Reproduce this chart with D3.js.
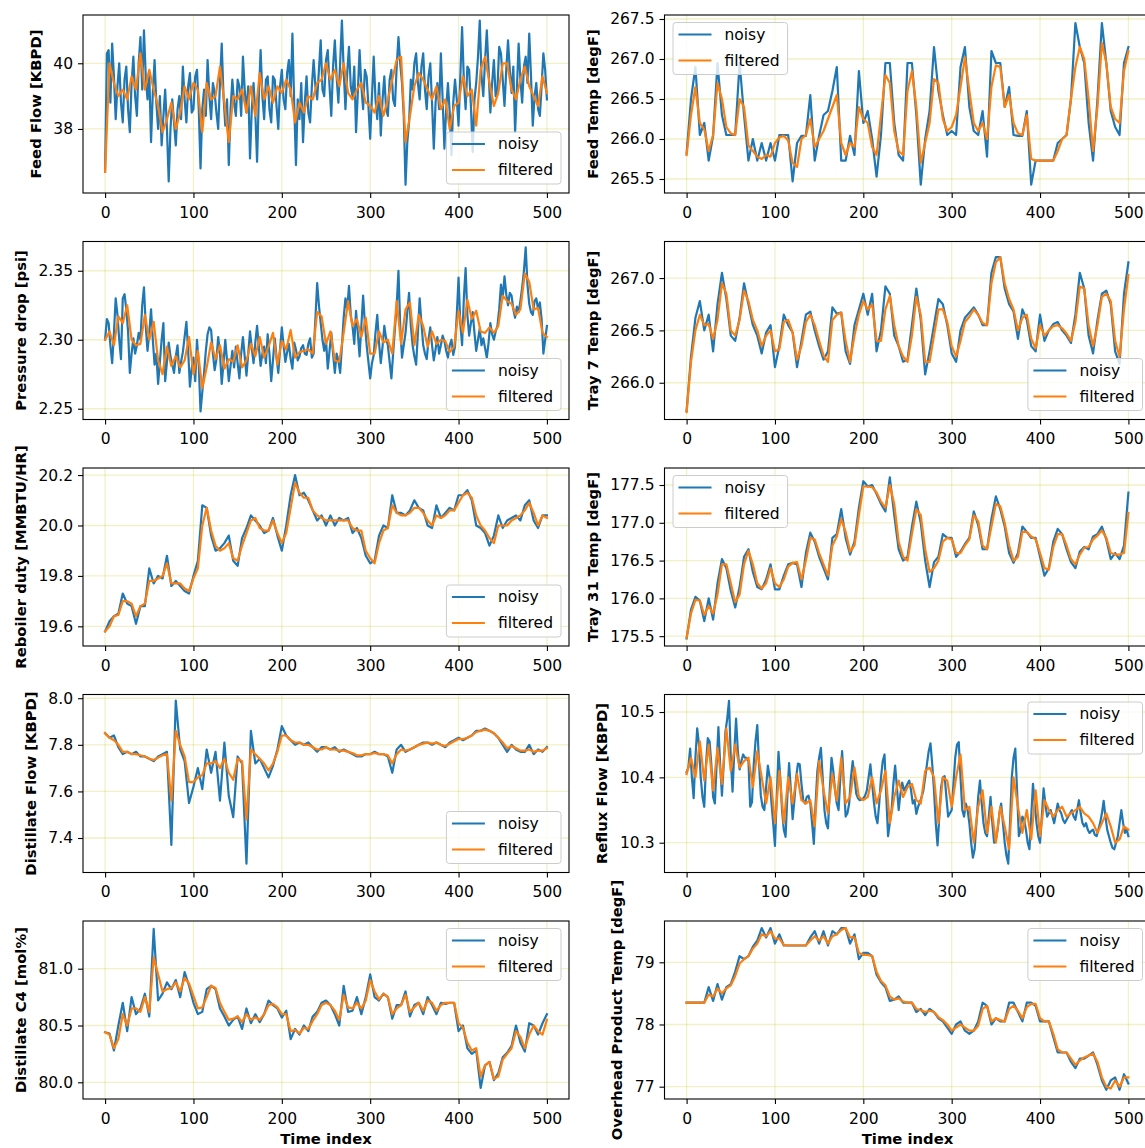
<!DOCTYPE html>
<html><head><meta charset="utf-8">
<script src="https://cdn.jsdelivr.net/npm/d3@7"></script>
<style>html,body{margin:0;padding:0;overflow:hidden;background:#fff}</style>
</head><body><svg id="chart"></svg>
<script>
// ---------------- data ----------------
const timeTicks = [0, 100, 200, 300, 400, 500];
const timeRange = [0, 500];
const seriesNames = ["noisy", "filtered"];

// Feed Flow [KBPD]  (noisy every 2 steps, filtered every 5 steps)
const feedFlowNoisy = [36.7,40.3,40.4,38.8,40.6,39.6,38.3,39.3,40.0,38.8,
 38.2,39.5,39.9,38.6,37.9,39.4,40.2,39.0,38.4,40.0,
 40.8,39.2,41.0,39.6,38.9,39.7,37.6,39.1,40.1,38.8,
 38.0,39.0,37.5,38.4,39.2,38.0,36.4,38.0,38.9,38.2,
 37.5,38.6,39.0,38.3,39.9,38.9,38.2,39.3,39.7,38.5,
 38.6,39.6,39.8,38.6,36.8,38.6,39.2,38.4,40.1,39.0,
 38.3,39.4,39.1,38.5,38.0,39.4,40.6,39.0,38.1,38.9,
 36.9,38.6,39.5,38.8,38.4,39.5,39.3,38.4,40.2,39.2,
 38.5,39.3,37.1,38.6,39.4,38.5,37.0,39.0,40.4,39.0,
 38.3,39.5,39.6,38.6,38.2,39.6,39.5,38.7,38.0,39.3,
 39.8,38.9,38.6,39.7,40.1,39.0,40.9,38.8,36.9,38.9,
 38.3,39.4,37.6,38.8,39.6,38.5,38.2,39.3,40.1,39.3,
 38.9,39.8,40.7,39.2,39.0,40.1,40.4,39.3,38.4,39.9,
 40.7,39.6,38.8,40.0,41.3,39.8,38.6,39.7,40.5,39.3,
 39.0,39.9,37.9,39.1,40.4,39.3,38.6,39.8,39.6,38.7,
 37.7,39.0,40.2,38.9,38.3,39.4,37.8,38.9,39.6,38.6,
 38.4,39.5,39.8,38.9,38.7,39.9,40.8,40.0,39.4,38.4,
 36.3,37.6,38.2,39.5,39.2,40.0,40.3,39.4,38.9,39.9,
 40.3,39.2,38.6,39.6,40.0,38.8,37.4,38.8,39.4,38.6,
 40.3,38.9,37.4,38.6,39.4,38.5,37.2,38.8,39.5,38.9,
 38.1,39.6,41.1,39.5,38.6,39.9,39.8,38.7,37.3,38.9,
 39.4,40.2,41.3,39.6,39.0,40.1,41.0,39.8,38.5,39.4,
 40.1,39.0,39.2,40.5,40.3,39.5,38.7,39.8,40.7,39.8,
 39.1,39.9,37.9,39.2,40.6,39.5,38.8,39.9,40.2,39.4,
 40.9,39.6,38.1,39.0,39.4,38.6,38.4,39.3,40.3,39.8,
 38.9];
const feedFlowFiltered = [36.7,40.0,39.4,39.0,39.2,38.9,39.6,39.2,40.3,39.2,
 39.8,39.2,38.7,37.9,38.3,38.8,38.0,38.5,39.3,38.9,
 39.4,39.2,37.9,39.4,38.9,39.0,39.9,38.8,37.6,39.0,
 38.9,39.2,38.5,39.3,38.4,39.7,38.9,39.3,38.8,39.3,
 39.1,39.5,39.2,38.2,38.8,38.5,39.0,38.9,39.4,39.5,
 40.0,39.5,39.8,39.3,40.0,39.1,38.9,39.2,39.4,38.8,
 38.7,38.5,39.0,38.4,38.9,39.5,40.1,40.2,37.6,38.4,
 39.3,39.7,39.5,39.2,38.9,39.3,38.6,38.9,38.0,38.7,
 38.8,39.6,39.0,39.2,38.1,39.8,40.2,39.4,38.7,39.1,
 40.0,40.0,39.2,38.9,39.5,39.9,39.3,39.0,38.7,39.6,
 39.1];

// Feed Temp [degF]
const feedTempNoisy = [265.82,266.5,266.9,266.05,266.2,265.73,266.04,266.95,266.3,266.05,
 266.05,266.05,266.95,266.3,265.73,266.0,265.73,265.95,265.73,265.95,
 265.73,266.05,266.05,266.05,265.47,265.95,266.04,266.04,266.55,265.73,
 266.04,266.3,266.35,266.6,266.9,265.73,265.73,266.04,265.8,266.85,
 266.2,266.35,266.0,265.53,266.05,266.95,266.95,266.2,265.8,265.73,
 266.95,266.95,266.3,265.43,266.0,266.35,267.15,266.6,266.3,266.05,
 266.1,266.05,266.9,267.15,266.4,266.1,266.05,266.35,265.78,267.1,
 266.95,266.95,266.4,266.65,266.05,266.04,266.04,266.35,265.43,265.73,
 265.73,265.73,265.73,265.73,265.95,266.0,266.05,266.5,267.45,267.15,
 266.95,266.2,265.73,266.5,267.45,266.95,266.35,266.15,266.05,266.95,
 267.15];
const feedTempFiltered = [265.8,266.3,266.65,266.2,266.12,265.85,266.05,266.7,266.5,266.15,
 266.07,266.05,266.5,266.4,265.92,265.85,265.78,265.75,265.8,265.78,
 265.95,266.02,266.04,265.98,265.7,265.65,266.0,266.05,266.25,265.9,
 266.0,266.1,266.25,266.4,266.55,265.95,265.8,265.95,265.9,266.4,
 266.25,266.2,265.9,265.8,266.3,266.8,266.7,266.1,265.85,265.8,
 266.6,266.85,266.4,265.7,265.95,266.2,266.75,266.7,266.25,266.1,
 266.15,266.3,266.65,267.02,266.6,266.2,266.1,266.2,266.0,266.65,
 266.92,266.9,266.4,266.55,266.2,266.07,266.05,266.3,265.75,265.73,
 265.73,265.73,265.73,265.73,265.85,266.0,266.05,266.5,266.9,267.15,
 267.0,266.5,265.85,266.4,267.2,266.95,266.4,266.25,266.2,266.85,
 267.1];

// Pressure drop [psi]  (noisy every 2 steps)
const pressureNoisy = [2.300,2.315,2.312,2.296,2.283,2.305,2.330,2.318,2.300,2.286,
 2.330,2.333,2.322,2.306,2.276,2.290,2.301,2.290,2.296,2.305,
 2.300,2.325,2.338,2.310,2.292,2.305,2.322,2.300,2.282,2.290,
 2.268,2.284,2.300,2.312,2.270,2.284,2.298,2.288,2.282,2.276,
 2.288,2.296,2.276,2.284,2.291,2.302,2.313,2.292,2.266,2.279,
 2.287,2.270,2.300,2.282,2.248,2.262,2.276,2.292,2.304,2.309,
 2.307,2.290,2.278,2.286,2.302,2.290,2.268,2.283,2.300,2.285,
 2.270,2.281,2.292,2.280,2.295,2.283,2.272,2.290,2.302,2.288,
 2.274,2.290,2.306,2.294,2.283,2.298,2.310,2.295,2.281,2.290,
 2.295,2.283,2.304,2.290,2.270,2.285,2.301,2.288,2.276,2.293,
 2.309,2.296,2.284,2.291,2.297,2.286,2.279,2.298,2.293,2.285,
 2.288,2.294,2.296,2.290,2.289,2.297,2.301,2.287,2.290,2.315,
 2.341,2.325,2.312,2.300,2.292,2.300,2.279,2.292,2.305,2.290,
 2.276,2.290,2.285,2.276,2.295,2.316,2.330,2.322,2.339,2.318,
 2.310,2.297,2.321,2.305,2.288,2.310,2.332,2.312,2.296,2.284,
 2.272,2.283,2.289,2.305,2.318,2.298,2.283,2.295,2.310,2.301,
 2.296,2.284,2.272,2.290,2.308,2.325,2.350,2.310,2.287,2.296,
 2.305,2.320,2.334,2.310,2.296,2.288,2.282,2.305,2.330,2.312,
 2.296,2.290,2.286,2.300,2.309,2.296,2.285,2.293,2.302,2.290,
 2.296,2.303,2.299,2.292,2.287,2.296,2.300,2.289,2.295,2.318,
 2.345,2.312,2.296,2.330,2.352,2.318,2.303,2.312,2.320,2.305,
 2.292,2.300,2.308,2.296,2.301,2.294,2.287,2.298,2.312,2.304,
 2.300,2.306,2.310,2.322,2.340,2.330,2.346,2.333,2.325,2.334,
 2.332,2.322,2.316,2.324,2.320,2.328,2.338,2.350,2.367,2.340,
 2.326,2.320,2.318,2.328,2.330,2.322,2.327,2.315,2.290,2.300,
 2.310];
const pressureFiltered = [2.300,2.306,2.296,2.317,2.312,2.325,2.300,2.296,2.297,2.318,
 2.300,2.313,2.285,2.275,2.295,2.281,2.288,2.280,2.285,2.302,
 2.275,2.292,2.265,2.280,2.298,2.286,2.296,2.279,2.286,2.284,
 2.296,2.280,2.285,2.297,2.288,2.302,2.287,2.295,2.305,2.282,
 2.299,2.293,2.307,2.287,2.291,2.292,2.293,2.290,2.320,2.317,
 2.297,2.306,2.285,2.284,2.305,2.328,2.310,2.315,2.302,2.316,
 2.290,2.290,2.306,2.298,2.300,2.290,2.328,2.297,2.322,2.327,
 2.296,2.318,2.310,2.295,2.306,2.297,2.300,2.299,2.291,2.295,
 2.321,2.305,2.329,2.315,2.321,2.306,2.305,2.309,2.305,2.310,
 2.332,2.328,2.326,2.318,2.322,2.348,2.342,2.322,2.323,2.305,
 2.302];

// Tray 7 Temp [degF]
const tray7Noisy = [265.73,266.25,266.62,266.78,266.5,266.65,266.3,266.75,267.05,266.8,
 266.45,266.4,266.62,266.95,266.75,266.55,266.45,266.28,266.48,266.55,
 266.15,266.35,266.65,266.55,266.48,266.15,266.4,266.65,266.68,266.5,
 266.35,266.22,266.3,266.72,266.66,266.67,266.3,266.18,266.55,266.7,
 266.85,266.65,266.85,266.3,266.5,266.92,266.85,266.45,266.35,266.2,
 266.22,266.55,266.9,266.6,266.08,266.3,266.55,266.8,266.75,266.55,
 266.28,266.2,266.5,266.62,266.67,266.72,266.65,266.55,266.55,267.05,
 267.2,267.2,266.9,266.75,266.68,266.42,266.7,266.6,266.35,266.3,
 266.65,266.4,266.5,266.56,266.58,266.5,266.45,266.38,266.65,267.05,
 266.9,266.45,266.28,266.6,266.85,266.88,266.75,266.3,266.18,266.85,
 267.15];
const tray7Filtered = [265.72,266.2,266.5,266.65,266.55,266.56,266.42,266.6,266.95,266.85,
 266.5,266.45,266.6,266.88,266.78,266.6,266.5,266.35,266.45,266.5,
 266.3,266.32,266.58,266.6,266.48,266.22,266.35,266.58,266.65,266.55,
 266.4,266.26,266.2,266.6,266.65,266.67,266.4,266.2,266.45,266.65,
 266.78,266.7,266.75,266.4,266.4,266.7,266.83,266.55,266.35,266.25,
 266.2,266.45,266.82,266.65,266.2,266.2,266.45,266.7,266.7,266.58,
 266.35,266.25,266.4,266.58,266.63,266.7,266.65,266.57,266.55,266.95,
 267.15,267.2,266.95,266.8,266.7,266.5,266.62,266.65,266.42,266.33,
 266.55,266.45,266.5,266.54,266.55,266.52,266.47,266.4,266.58,266.92,
 266.9,266.55,266.35,266.55,266.82,266.85,266.78,266.4,266.25,266.7,
 267.03];

// Reboiler duty [MMBTU/HR]
const reboilerNoisy = [19.58,19.62,19.64,19.65,19.73,19.69,19.68,19.61,19.68,19.68,
 19.83,19.77,19.80,19.79,19.88,19.76,19.78,19.76,19.74,19.73,
 19.80,19.86,20.08,20.07,19.96,19.90,19.91,19.93,19.96,19.86,
 19.84,19.95,19.99,20.04,20.02,20.00,19.97,19.98,20.03,19.96,
 19.90,20.00,20.12,20.20,20.12,20.13,20.10,20.06,20.02,20.04,
 20.00,20.04,20.00,20.03,20.02,20.03,19.97,19.99,19.95,19.88,
 19.85,19.86,19.96,20.00,19.99,20.12,20.05,20.05,20.04,20.06,
 20.10,20.07,20.06,20.00,19.99,20.08,20.03,20.05,20.07,20.06,
 20.12,20.12,20.14,20.10,20.00,19.99,19.97,19.92,19.96,20.04,
 19.99,20.02,20.03,20.04,20.02,20.08,20.10,20.02,19.99,20.04,
 20.04];
const reboilerFiltered = [19.58,19.60,19.64,19.645,19.70,19.70,19.69,19.64,19.68,19.69,
 19.78,19.78,19.79,19.80,19.85,19.77,19.77,19.77,19.75,19.74,
 19.79,19.83,20.00,20.07,19.98,19.92,19.90,19.91,19.93,19.87,
 19.86,19.92,19.97,20.02,20.03,19.99,19.98,19.98,20.02,19.97,
 19.93,19.97,20.07,20.17,20.13,20.11,20.11,20.06,20.04,20.03,
 20.02,20.02,20.02,20.02,20.02,20.02,19.99,19.98,19.98,19.90,
 19.87,19.85,19.93,19.98,19.99,20.08,20.05,20.04,20.04,20.05,
 20.07,20.07,20.05,20.02,20.00,20.04,20.03,20.04,20.06,20.06,
 20.09,20.12,20.13,20.11,20.04,20.00,19.98,19.95,19.93,20.00,
 20.00,20.00,20.02,20.03,20.04,20.06,20.09,20.05,20.00,20.04,
 20.03];

// Tray 31 Temp [degF]
const tray31Noisy = [175.47,175.85,176.02,175.97,175.7,176.0,175.72,176.2,176.52,176.4,
 176.1,175.88,176.15,176.55,176.65,176.35,176.15,176.12,176.25,176.45,
 176.12,176.12,176.3,176.45,176.47,176.45,176.15,176.6,176.87,176.75,
 176.55,176.4,176.25,176.8,176.85,177.18,176.8,176.58,176.75,177.2,
 177.55,177.48,177.5,177.38,177.25,177.15,177.6,177.1,176.65,176.5,
 176.55,176.95,177.28,177.0,176.5,176.15,176.48,176.55,176.85,176.8,
 176.8,176.55,176.62,176.72,176.8,177.15,176.97,176.65,176.65,177.05,
 177.35,177.18,176.95,176.6,176.47,176.6,176.95,176.88,176.8,176.8,
 176.55,176.3,176.4,176.75,176.92,176.85,176.65,176.48,176.4,176.62,
 176.68,176.65,176.82,176.85,176.95,176.78,176.52,176.6,176.52,176.7,
 177.4];
const tray31Filtered = [175.48,175.8,175.98,175.97,175.78,175.9,175.8,176.05,176.45,176.45,
 176.2,175.95,176.05,176.45,176.63,176.45,176.2,176.13,176.2,176.4,
 176.2,176.15,176.25,176.42,176.47,176.48,176.25,176.5,176.8,176.78,
 176.6,176.45,176.3,176.7,176.82,177.05,176.88,176.62,176.7,177.1,
 177.48,177.48,177.47,177.4,177.28,177.2,177.5,177.25,176.75,176.55,
 176.5,176.85,177.18,177.1,176.65,176.35,176.4,176.5,176.75,176.8,
 176.78,176.6,176.6,176.7,176.78,177.1,177.02,176.7,176.65,176.95,
 177.25,177.22,177.0,176.7,176.5,176.55,176.88,176.88,176.82,176.78,
 176.6,176.4,176.38,176.68,176.85,176.85,176.7,176.52,176.45,176.58,
 176.67,176.68,176.78,176.83,176.9,176.8,176.6,176.58,176.58,176.6,
 177.13];

// Distillate Flow [KBPD]
const distFlowNoisy = [7.85,7.83,7.84,7.79,7.76,7.77,7.76,7.77,7.75,7.75,
 7.74,7.73,7.75,7.76,7.77,7.37,7.99,7.78,7.73,7.55,
 7.62,7.70,7.61,7.78,7.68,7.77,7.56,7.81,7.58,7.49,
 7.75,7.72,7.29,7.86,7.72,7.74,7.70,7.66,7.71,7.78,
 7.88,7.84,7.82,7.80,7.81,7.80,7.81,7.79,7.77,7.79,
 7.79,7.78,7.79,7.77,7.78,7.77,7.76,7.75,7.75,7.76,
 7.76,7.77,7.76,7.76,7.75,7.68,7.78,7.80,7.77,7.78,
 7.79,7.80,7.81,7.81,7.80,7.81,7.80,7.79,7.81,7.82,
 7.83,7.82,7.83,7.84,7.86,7.86,7.87,7.86,7.85,7.83,
 7.80,7.77,7.80,7.78,7.77,7.77,7.80,7.76,7.78,7.77,
 7.79];
const distFlowFiltered = [7.85,7.83,7.82,7.80,7.77,7.77,7.76,7.76,7.755,7.75,
 7.74,7.735,7.745,7.755,7.76,7.56,7.86,7.80,7.75,7.64,
 7.64,7.66,7.67,7.72,7.72,7.73,7.70,7.74,7.68,7.65,
 7.74,7.73,7.48,7.78,7.76,7.74,7.72,7.69,7.72,7.77,
 7.84,7.84,7.82,7.81,7.81,7.80,7.80,7.79,7.78,7.78,
 7.79,7.78,7.78,7.775,7.775,7.77,7.765,7.755,7.755,7.76,
 7.76,7.765,7.76,7.76,7.755,7.72,7.76,7.78,7.775,7.78,
 7.79,7.80,7.805,7.81,7.805,7.81,7.80,7.795,7.805,7.815,
 7.825,7.825,7.83,7.84,7.855,7.86,7.865,7.86,7.85,7.83,
 7.81,7.785,7.795,7.785,7.775,7.775,7.78,7.77,7.775,7.775,
 7.785];

// Reflux Flow [KBPD]  (noisy every 2 steps)
const refluxNoisy = [10.408,10.415,10.444,10.400,10.368,10.430,10.475,10.450,10.400,10.370,
 10.355,10.420,10.460,10.455,10.420,10.370,10.360,10.420,10.477,10.420,
 10.372,10.420,10.470,10.490,10.517,10.430,10.378,10.440,10.490,10.440,
 10.412,10.425,10.435,10.430,10.430,10.425,10.355,10.362,10.420,10.455,
 10.480,10.420,10.372,10.355,10.350,10.385,10.418,10.400,10.362,10.330,
 10.295,10.370,10.439,10.400,10.350,10.320,10.309,10.370,10.422,10.380,
 10.336,10.365,10.400,10.421,10.420,10.390,10.365,10.360,10.370,10.372,
 10.360,10.330,10.298,10.360,10.410,10.430,10.445,10.400,10.350,10.330,
 10.322,10.380,10.430,10.410,10.380,10.360,10.350,10.400,10.440,10.390,
 10.340,10.345,10.360,10.400,10.425,10.400,10.375,10.368,10.365,10.366,
 10.368,10.372,10.380,10.400,10.420,10.390,10.362,10.340,10.330,10.360,
 10.400,10.425,10.435,10.370,10.310,10.330,10.350,10.390,10.418,10.385,
 10.350,10.375,10.392,10.380,10.385,10.390,10.395,10.380,10.360,10.365,
 10.344,10.355,10.362,10.370,10.380,10.400,10.420,10.440,10.452,10.420,
 10.380,10.330,10.296,10.340,10.385,10.400,10.402,10.370,10.340,10.345,
 10.350,10.390,10.430,10.450,10.454,10.400,10.350,10.340,10.360,10.350,
 10.330,10.300,10.277,10.290,10.330,10.370,10.395,10.360,10.330,10.315,
 10.310,10.340,10.370,10.330,10.300,10.305,10.320,10.345,10.360,10.330,
 10.300,10.280,10.268,10.330,10.400,10.430,10.444,10.380,10.310,10.320,
 10.340,10.335,10.320,10.300,10.290,10.340,10.390,10.360,10.330,10.310,
 10.300,10.340,10.383,10.360,10.340,10.345,10.350,10.340,10.330,10.345,
 10.360,10.350,10.345,10.335,10.330,10.335,10.340,10.345,10.350,10.340,
 10.335,10.350,10.365,10.345,10.330,10.325,10.330,10.320,10.315,10.318,
 10.320,10.312,10.310,10.320,10.330,10.345,10.364,10.340,10.320,10.310,
 10.300,10.292,10.290,10.300,10.310,10.330,10.350,10.330,10.315,10.320,
 10.310];
const refluxFiltered = [10.405,10.43,10.40,10.455,10.395,10.45,10.38,10.445,10.39,10.475,
 10.41,10.45,10.415,10.425,10.43,10.385,10.44,10.40,10.36,10.40,
 10.33,10.41,10.33,10.40,10.36,10.405,10.365,10.36,10.365,10.325,
 10.425,10.38,10.345,10.405,10.365,10.43,10.36,10.37,10.415,10.37,
 10.365,10.37,10.40,10.36,10.38,10.41,10.33,10.37,10.395,10.37,
 10.385,10.39,10.365,10.36,10.41,10.415,10.40,10.33,10.40,10.395,
 10.355,10.40,10.435,10.35,10.355,10.30,10.355,10.38,10.315,10.355,
 10.30,10.355,10.325,10.29,10.40,10.355,10.315,10.35,10.305,10.38,
 10.31,10.365,10.35,10.34,10.35,10.355,10.34,10.345,10.35,10.355,
 10.345,10.34,10.33,10.315,10.33,10.345,10.325,10.30,10.305,10.325,
 10.32];

// Distillate C4 [mol%]
const c4Noisy = [80.44,80.43,80.28,80.5,80.7,80.45,80.75,80.6,80.65,80.78,
 80.58,81.35,80.72,80.78,80.88,80.82,80.9,80.75,80.97,80.85,
 80.7,80.6,80.62,80.82,80.85,80.82,80.65,80.58,80.5,80.55,
 80.58,80.47,80.65,80.52,80.6,80.53,80.6,80.72,80.68,80.65,
 80.57,80.63,80.38,80.47,80.42,80.5,80.45,80.58,80.62,80.7,
 80.72,80.68,80.6,80.5,80.85,80.62,80.63,80.75,80.6,80.75,
 80.95,80.75,80.72,80.78,80.75,80.56,80.68,80.68,80.8,80.58,
 80.68,80.7,80.6,80.75,80.68,80.6,80.7,80.69,80.7,80.7,
 80.45,80.5,80.3,80.25,80.28,79.95,80.15,80.18,80.02,80.08,
 80.22,80.26,80.32,80.5,80.35,80.27,80.52,80.5,80.42,80.52,
 80.6];
const c4Filtered = [80.44,80.42,80.3,80.38,80.6,80.5,80.65,80.65,80.62,80.75,
 80.62,81.1,80.95,80.8,80.82,80.83,80.88,80.8,80.92,80.87,
 80.76,80.65,80.66,80.75,80.85,80.83,80.7,80.62,80.55,80.56,
 80.58,80.53,80.6,80.55,80.57,80.55,80.6,80.68,80.69,80.66,
 80.6,80.6,80.45,80.46,80.43,80.48,80.47,80.54,80.6,80.68,
 80.7,80.68,80.63,80.55,80.77,80.66,80.65,80.7,80.65,80.72,
 80.9,80.8,80.73,80.78,80.75,80.6,80.65,80.68,80.77,80.62,
 80.66,80.7,80.63,80.72,80.7,80.63,80.68,80.7,80.7,80.7,
 80.52,80.48,80.35,80.28,80.3,80.05,80.15,80.18,80.03,80.05,
 80.2,80.25,80.3,80.45,80.4,80.3,80.42,80.5,80.45,80.42,
 80.55];

// Overhead Product Temp [degF]
const overheadNoisy = [78.35,78.35,78.35,78.35,78.35,78.6,78.38,78.65,78.4,78.6,
 78.65,78.85,79.1,79.05,79.1,79.25,79.35,79.55,79.4,79.55,
 79.3,79.45,79.27,79.27,79.27,79.27,79.27,79.27,79.4,79.5,
 79.3,79.5,79.27,79.5,79.45,79.55,79.55,79.3,79.45,79.05,
 79.15,79.15,79.1,78.8,78.68,78.6,78.38,78.4,78.45,78.35,
 78.35,78.35,78.2,78.25,78.15,78.25,78.2,78.1,78.05,77.95,
 77.85,78.0,78.05,77.9,77.85,77.9,78.05,78.35,78.3,78.0,
 78.1,78.05,78.05,78.35,78.35,78.2,78.05,78.35,78.35,78.3,
 78.05,78.05,78.05,77.8,77.55,77.55,77.55,77.4,77.3,77.45,
 77.45,77.5,77.55,77.35,77.1,76.95,77.1,77.15,76.95,77.2,
 77.05];
const overheadFiltered = [78.35,78.35,78.35,78.35,78.35,78.48,78.45,78.58,78.5,78.58,
 78.63,78.78,78.98,79.05,79.1,79.22,79.3,79.45,79.42,79.5,
 79.38,79.38,79.28,79.27,79.27,79.27,79.27,79.27,79.35,79.42,
 79.35,79.42,79.3,79.42,79.45,79.52,79.55,79.4,79.4,79.15,
 79.12,79.12,79.1,78.85,78.7,78.63,78.45,78.4,78.42,78.37,
 78.35,78.35,78.25,78.23,78.2,78.22,78.2,78.12,78.07,78.0,
 77.9,77.95,78.0,77.95,77.9,77.9,77.98,78.25,78.3,78.05,
 78.1,78.07,78.05,78.25,78.3,78.22,78.1,78.28,78.33,78.33,
 78.1,78.05,78.05,77.85,77.6,77.55,77.55,77.45,77.35,77.42,
 77.47,77.5,77.53,77.4,77.15,77.0,76.97,77.1,77.0,77.15,
 77.15];

// y tick labels per panel
const feedFlowTicks = [38, 40];
const feedTempTicks = [265.5, 266.0, 266.5, 267.0, 267.5];
const pressureTicks = [2.25, 2.30, 2.35];
const tray7Ticks = [266.0, 266.5, 267.0];
const reboilerTicks = [19.6, 19.8, 20.0, 20.2];
const tray31Ticks = [175.5, 176.0, 176.5, 177.0, 177.5];
const distFlowTicks = [7.4, 7.6, 7.8, 8.0];
const refluxTicks = [10.3, 10.4, 10.5];
const c4Ticks = [80.0, 80.5, 81.0];
const overheadTicks = [77, 78, 79];

// axis limits
const xLimits = [-25, 525];
const panels = [
  {label:"Feed Flow [KBPD]", noisy:feedFlowNoisy, filtered:feedFlowFiltered, ticks:feedFlowTicks, fmt:"d", ylim:[36.05,41.47], col:0, row:0, legend:"lower right"},
  {label:"Feed Temp [degF]", noisy:feedTempNoisy, filtered:feedTempFiltered, ticks:feedTempTicks, fmt:".1f", ylim:[265.325,267.55], col:1, row:0, legend:"upper left"},
  {label:"Pressure drop [psi]", noisy:pressureNoisy, filtered:pressureFiltered, ticks:pressureTicks, fmt:".2f", ylim:[2.2422,2.3712], col:0, row:1, legend:"lower right"},
  {label:"Tray 7 Temp [degF]", noisy:tray7Noisy, filtered:tray7Filtered, ticks:tray7Ticks, fmt:".1f", ylim:[265.649,267.349], col:1, row:1, legend:"lower right"},
  {label:"Reboiler duty [MMBTU/HR]", noisy:reboilerNoisy, filtered:reboilerFiltered, ticks:reboilerTicks, fmt:".1f", ylim:[19.522,20.228], col:0, row:2, legend:"lower right"},
  {label:"Tray 31 Temp [degF]", noisy:tray31Noisy, filtered:tray31Filtered, ticks:tray31Ticks, fmt:".1f", ylim:[175.37,177.725], col:1, row:2, legend:"upper left"},
  {label:"Distillate Flow [KBPD]", noisy:distFlowNoisy, filtered:distFlowFiltered, ticks:distFlowTicks, fmt:".1f", ylim:[7.252,8.016], col:0, row:3, legend:"lower right"},
  {label:"Reflux Flow [KBPD]", noisy:refluxNoisy, filtered:refluxFiltered, ticks:refluxTicks, fmt:".1f", ylim:[10.2544,10.5268], col:1, row:3, legend:"upper right"},
  {label:"Distillate C4 [mol%]", noisy:c4Noisy, filtered:c4Filtered, ticks:c4Ticks, fmt:".1f", ylim:[79.853,81.42], col:0, row:4, legend:"upper right"},
  {label:"Overhead Product Temp [degF]", noisy:overheadNoisy, filtered:overheadFiltered, ticks:overheadTicks, fmt:"d", ylim:[76.802,79.664], col:1, row:4, legend:"upper right"}
];
const xLabel = "Time index";

// ---------------- layout & style ----------------
const COLORS = ["#1f77b4", "#ff7f0e"];
const FONT = '"DejaVu Sans", "Liberation Sans", sans-serif';
const FS = 15.5;       // tick + legend text
const FS_LABEL = 14.8; // bold axis labels
const colLeft = [83, 664.5];
const rowTop = [15, 241.5, 468, 694.5, 921];
const AW = 486, AH = 178;

const svg = d3.select("#chart").attr("width", 1160).attr("height", 1148)
  .style("display", "block").attr("font-family", FONT);

panels.forEach((p, k) => {
  const x0 = colLeft[p.col], y0 = rowTop[p.row];
  const x = d3.scaleLinear().domain(xLimits).range([x0, x0 + AW]);
  const y = d3.scaleLinear().domain(p.ylim).range([y0 + AH, y0]);
  const g = svg.append("g");
  const clipId = "clip" + k;
  g.append("clipPath").attr("id", clipId).append("rect")
    .attr("x", x0).attr("y", y0).attr("width", AW).attr("height", AH);

  // grid
  const grid = g.append("g").attr("clip-path", `url(#${clipId})`)
    .attr("stroke", "#bfbf00").attr("stroke-opacity", 0.22).attr("stroke-width", 1.3);
  grid.selectAll(".gv").data(timeTicks).join("line")
    .attr("x1", d => x(d)).attr("x2", d => x(d)).attr("y1", y0).attr("y2", y0 + AH);
  grid.selectAll(".gh").data(p.ticks).join("line")
    .attr("y1", d => y(d)).attr("y2", d => y(d)).attr("x1", x0).attr("x2", x0 + AW);

  // series
  const plot = g.append("g").attr("clip-path", `url(#${clipId})`);
  const line = d3.line()
    .x((d, i, arr) => x(timeRange[0] + i * (timeRange[1] - timeRange[0]) / (arr.length - 1)))
    .y(d => y(d));
  [p.noisy, p.filtered].forEach((arr, s) => {
    plot.append("path").datum(arr).attr("d", line)
      .attr("fill", "none").attr("stroke", COLORS[s]).attr("stroke-width", 2.2)
      .attr("stroke-linejoin", "round").attr("stroke-linecap", "square");
  });

  // frame
  g.append("rect").attr("x", x0).attr("y", y0).attr("width", AW).attr("height", AH)
    .attr("fill", "none").attr("stroke", "#000").attr("stroke-width", 1.1);

  // axes
  const xa = g.append("g").attr("transform", `translate(0,${y0 + AH})`)
    .call(d3.axisBottom(x).tickValues(timeTicks).tickFormat(d3.format("d")).tickSize(5).tickPadding(8.5));
  const ya = g.append("g").attr("transform", `translate(${x0},0)`)
    .call(d3.axisLeft(y).tickValues(p.ticks).tickFormat(d3.format(p.fmt)).tickSize(5).tickPadding(5));
  [xa, ya].forEach(a => {
    a.select(".domain").remove();
    a.attr("font-family", FONT).attr("font-size", FS);
    a.selectAll("text").attr("fill", "#000");
    a.selectAll("line").attr("stroke", "#000").attr("stroke-width", 1.1);
  });

  // y label (bbox is in the axis group's local frame, so add x0)
  const bb = ya.node().getBBox();
  const lx = x0 + bb.x - 9 - FS_LABEL * 0.24;
  g.append("text")
    .attr("transform", `translate(${lx},${y0 + AH / 2}) rotate(-90)`)
    .attr("text-anchor", "middle").attr("font-weight", "bold").attr("font-size", FS_LABEL)
    .attr("fill", "#000").text(p.label);

  if (p.row === rowTop.length - 1) {
    g.append("text").attr("x", x0 + AW / 2).attr("y", y0 + AH + 44.5)
      .attr("text-anchor", "middle").attr("font-weight", "bold").attr("font-size", FS_LABEL)
      .attr("fill", "#000").text(xLabel);
  }

  // legend
  const lg = g.append("g");
  const box = lg.append("rect");
  const labels = seriesNames.map(name => lg.append("text")
    .attr("font-size", FS).attr("fill", "#000").attr("dominant-baseline", "central").text(name));
  const tw = d3.max(labels, t => t.node().getComputedTextLength());
  const padL = 5.5, handleL = 33, gap = 13, padR = 8, rowH = 26, padT = 12;
  const bw = padL + handleL + gap + tw + padR, bh = 52;
  let bx, by;
  if (p.legend === "lower right") { bx = x0 + AW - 8 - bw; by = y0 + AH - 9 - bh; }
  else if (p.legend === "upper left") { bx = x0 + 8.5; by = y0 + 7.5; }
  else { bx = x0 + AW - 8 - bw; by = y0 + 7.5; }
  box.attr("x", bx).attr("y", by).attr("width", bw).attr("height", bh).attr("rx", 3)
    .attr("fill", "#fff").attr("fill-opacity", 0.8).attr("stroke", "#cccccc").attr("stroke-width", 1);
  seriesNames.forEach((name, i) => {
    const ly = by + padT + i * rowH;
    lg.append("line").attr("x1", bx + padL).attr("x2", bx + padL + handleL)
      .attr("y1", ly).attr("y2", ly).attr("stroke", COLORS[i]).attr("stroke-width", 2.2);
    labels[i].attr("x", bx + padL + handleL + gap).attr("y", ly);
  });
  lg.raise();
});
</script>
</body></html>
